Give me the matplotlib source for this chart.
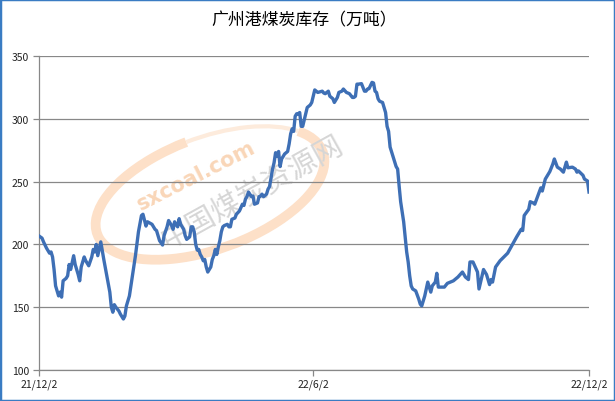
import pandas as pd
import matplotlib
matplotlib.use('Agg')
import matplotlib.pyplot as plt
from matplotlib.patches import Arc, Rectangle

plt.rcParams['font.family'] = ['Noto Sans CJK SC', 'DejaVu Sans']

# days since 2021-12-02 and stock level (10k tonnes)
start = pd.Timestamp('2021-12-02')
days = [0, 2, 3, 5, 7, 8, 9, 10, 11, 13, 14, 15, 16, 18, 19, 20, 21, 23, 24, 26,
        27, 28, 30, 31, 33, 35, 36, 37, 38, 39, 41, 42, 43, 45, 47, 48, 49, 50, 51, 53,
        54, 56, 57, 58, 60, 62, 64, 66, 68, 69, 71, 72, 75, 77, 78, 80, 82, 83, 85, 86,
        88, 89, 90, 92, 93, 94, 95, 96, 97, 98, 100, 101, 102, 103, 104, 105, 106, 107, 108, 109,
        110, 111, 112, 114, 115, 116, 117, 118, 119, 120, 121, 122, 123, 125, 126, 127, 128, 130, 131, 133,
        135, 136, 137, 138, 139, 141, 142, 143, 145, 146, 147, 148, 149, 151, 152, 153, 155, 156, 157, 158,
        159, 160, 161, 163, 165, 166, 167, 168, 169, 170, 171, 172, 173, 174, 175, 177, 178, 180, 181, 183,
        185, 188, 189, 190, 191, 192, 193, 195, 196, 198, 199, 201, 202, 204, 206, 208, 209, 210, 211, 212,
        214, 216, 217, 218, 219, 221, 222, 223, 224, 225, 226, 228, 230, 231, 232, 233, 235, 237, 238, 239,
        240, 242, 244, 245, 246, 247, 248, 250, 252, 253, 254, 256, 257, 258, 260, 261, 263, 264, 265, 268,
        269, 271, 275, 278, 281, 283, 285, 286, 288, 291, 292, 294, 295, 297, 299, 300, 301, 303, 306, 311,
        314, 317, 320, 321, 322, 325, 326, 328, 329, 331, 333, 334, 336, 339, 341, 342, 344, 346, 348, 349,
        350, 351, 354, 356, 357, 358, 361, 362, 364, 365]
stock = [206.7, 205, 202, 197, 193, 194, 190, 180, 167, 159, 162, 158, 171, 173, 175, 184, 180, 191, 184, 176,
         171, 182, 190, 187, 183, 190, 196, 194, 200, 191, 202, 195, 188, 175, 162, 150, 146, 152, 150, 147,
         144.5, 140.6, 143, 151, 159, 175, 191, 210, 223, 224, 214.6, 218, 216, 212, 211, 203, 199.5, 207, 214, 219,
         215, 212, 218, 214, 220.5, 216, 214, 212, 207, 204, 206, 214, 214, 210, 200, 195.5, 196, 192, 190, 187,
         188, 182, 178, 182, 188, 191, 196, 192, 198, 203, 210, 214, 215, 216, 214, 214, 220, 221, 224, 226.6,
         232, 231, 236, 238, 241.7, 238, 238.5, 232, 233, 238, 238.5, 240, 238, 240, 244, 246, 260, 265, 273, 270,
         274, 262, 268, 272, 274, 280, 288, 292, 290, 302, 304, 304, 305, 294, 294, 304, 309, 311, 313, 323,
         321, 322, 320.5, 320, 321, 322, 318, 316, 313, 317, 321, 322, 323.7, 321, 320, 317, 317, 318, 327.6, 327.6,
         328, 322, 322, 323.7, 324, 329, 328.5, 322, 321, 316, 314, 313, 305, 294, 290, 277.5, 269.6, 262, 260, 246.5,
         234, 218, 194, 186, 175, 167, 164.5, 163, 156.5, 152.5, 151, 159, 164.5, 170, 162, 167, 170, 177, 166, 166,
         166, 169, 171, 174, 178, 174, 172, 186, 186, 178, 164.5, 175, 180, 176, 168, 172, 170, 182, 187, 193,
         199.5, 206, 212, 211, 223, 228, 234, 233, 232, 238.5, 245, 242.5, 252, 258, 264, 268, 261.5, 260, 257.5, 261.5,
         265.5, 261, 261.5, 260, 257.5, 258.5, 255, 252, 250.5, 241.7]

tick_dates = ['2021-12-02', '2022-06-02', '2022-12-02']
tick_labels = ['21/12/2', '22/6/2', '22/12/2']
title = '广州港煤炭库存（万吨）'

dates = [start + pd.Timedelta(days=d) for d in days]

fig = plt.figure(figsize=(6.15, 4.02), dpi=100)
fig.patch.set_facecolor('white')

# watermark layer in pixel coordinates
wm = fig.add_axes([0, 0, 1, 1], zorder=0)
wm.set_xlim(0, 615)
wm.set_ylim(0, 402)
wm.axis('off')
wm.add_patch(Arc((210, 208), 240, 112, angle=20, theta1=95, theta2=375,
                 lw=7, color='#fde0c8'))
wm.add_patch(Arc((210, 208), 240, 112, angle=20, theta1=15, theta2=95,
                 lw=3, color='#fdebdc'))
wm.text(196, 226, 'sxcoal.com', rotation=27, fontsize=15, fontweight='bold',
        color='#f9d6b8', ha='center', va='center', family='DejaVu Sans')
wm.text(252, 208, '中国煤炭资源网', rotation=29, fontsize=21,
        color='#d6d6d6', ha='center', va='center')

ax = fig.add_axes([39 / 615, 1 - 371 / 402, 550 / 615, 314 / 402], zorder=1)
ax.patch.set_alpha(0)

ax.plot(dates, stock, color='#3e6fb5', lw=2.4, solid_joinstyle='round', zorder=3)

ax.set_ylim(100, 350)
ax.set_yticks([100, 150, 200, 250, 300, 350])
ax.set_xlim(pd.Timestamp(tick_dates[0]), pd.Timestamp(tick_dates[-1]))
ax.set_xticks([pd.Timestamp(t) for t in tick_dates])
ax.set_xticklabels(tick_labels)

ax.grid(axis='y', color='#888888', lw=0.9)
ax.set_axisbelow(True)
for s in ['top', 'right']:
    ax.spines[s].set_visible(False)
for s in ['left', 'bottom']:
    ax.spines[s].set_color('#888888')
    ax.spines[s].set_linewidth(0.9)
ax.tick_params(axis='both', colors='#888888', labelcolor='#222222', labelsize=7.5,
               length=4, width=0.9, direction='out')
ax.tick_params(axis='y', pad=3)
ax.tick_params(axis='x', pad=2)

fig.text(0.494, 1 - 20 / 402, title, ha='center', va='center', fontsize=12.2,
         color='#000000', fontweight='medium')

fig.add_artist(Rectangle((0, 0), 1, 1, transform=fig.transFigure, fill=False,
                         edgecolor='#3a7cc3', lw=2.5))

fig.savefig('out.png', dpi=100)
